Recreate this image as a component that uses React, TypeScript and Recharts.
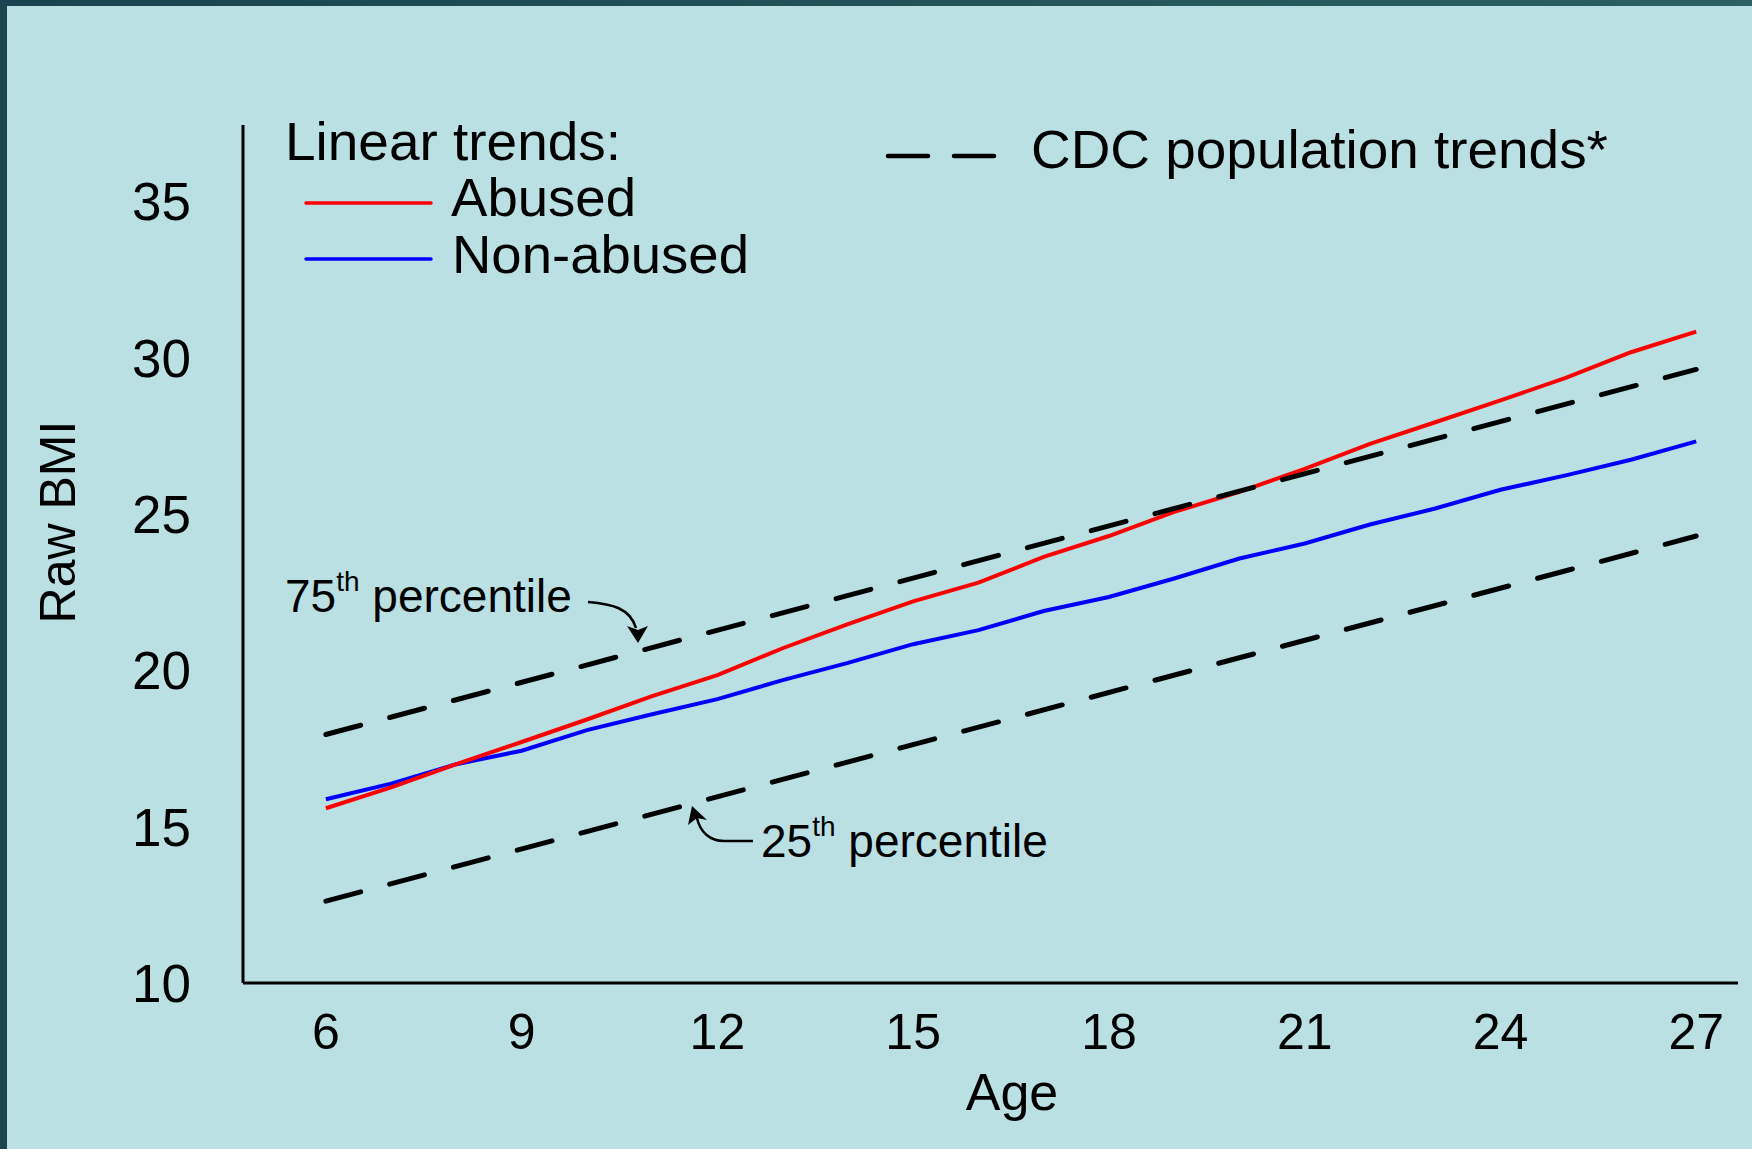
import React from 'react'
import { LineChart, Line, XAxis, YAxis } from 'recharts'

// ages with a measured point for each group
const ages = [6, 7, 8, 9, 10, 11, 12, 13, 14, 15, 16, 17, 18, 19, 20, 21, 22, 23, 24, 25, 26, 27]
const abusedBmi = [
  15.59, 16.26, 17.0, 17.71, 18.43, 19.18, 19.85, 20.71, 21.48, 22.21, 22.81,
  23.63, 24.3, 25.07, 25.71, 26.45, 27.25, 27.94, 28.64, 29.36, 30.18, 30.84,
]
const nonAbusedBmi = [
  15.88, 16.38, 17.0, 17.43, 18.09, 18.6, 19.08, 19.69, 20.24, 20.84, 21.29,
  21.9, 22.35, 22.94, 23.58, 24.06, 24.67, 25.18, 25.78, 26.24, 26.74, 27.33,
]

// CDC population trends (straight lines, end points only)
const cdcAges = [6, 27]
const cdc75 = [17.95, 29.63]
const cdc25 = [12.62, 24.3]

const xTicks = [6, 9, 12, 15, 18, 21, 24, 27]
const yTicks = [10, 15, 20, 25, 30, 35]

const trendData = ages.map((age, i) => ({
  age,
  abused: abusedBmi[i],
  nonAbused: nonAbusedBmi[i],
}))
const cdc75Data = cdcAges.map((age, i) => ({ age, bmi: cdc75[i] }))
const cdc25Data = cdcAges.map((age, i) => ({ age, bmi: cdc25[i] }))

const FONT = '"Liberation Sans", Arial, sans-serif'
const BG = '#bae0e3'

export default function App() {
  return (
    <div
      style={{
        position: 'absolute',
        left: 0,
        top: 0,
        width: 1752,
        height: 1149,
        background: BG,
        fontFamily: FONT,
        overflow: 'hidden',
      }}
    >
      {/* frame */}
      <div
        style={{
          position: 'absolute',
          left: 0,
          top: 0,
          width: 1752,
          height: 6,
          background: 'linear-gradient(to right, #19434f, #2b6162)',
        }}
      />
      <div
        style={{ position: 'absolute', left: 0, top: 0, width: 7, height: 1149, background: '#1a4450' }}
      />

      <div style={{ position: 'absolute', left: 0, top: 0 }}>
        <LineChart
          width={1752}
          height={1149}
          margin={{ top: 125, right: 14, bottom: 66, left: 93 }}
        >
          <XAxis
            dataKey="age"
            type="number"
            domain={[4.73, 27.64]}
            ticks={xTicks}
            allowDataOverflow
            height={100}
            tickLine={false}
            tickSize={0}
            tickMargin={30}
            axisLine={{ stroke: '#000', strokeWidth: 3 }}
            tick={{ fill: '#000', fontSize: 50, fontFamily: FONT }}
          />
          <YAxis
            type="number"
            domain={[10, 37.45]}
            ticks={yTicks}
            allowDataOverflow
            width={150}
            tickLine={false}
            tickSize={0}
            tickMargin={52}
            axisLine={{ stroke: '#000', strokeWidth: 3 }}
            tick={{ fill: '#000', fontSize: 53, fontFamily: FONT }}
          />
          <Line
            data={trendData}
            dataKey="nonAbused"
            type="linear"
            stroke="#0000ff"
            strokeWidth={4}
            dot={false}
            isAnimationActive={false}
          />
          <Line
            data={trendData}
            dataKey="abused"
            type="linear"
            stroke="#ff0000"
            strokeWidth={4}
            dot={false}
            isAnimationActive={false}
          />
          <Line
            data={cdc75Data}
            dataKey="bmi"
            type="linear"
            stroke="#000"
            strokeWidth={5}
            strokeDasharray="36 30"
            strokeLinecap="round"
            dot={false}
            isAnimationActive={false}
          />
          <Line
            data={cdc25Data}
            dataKey="bmi"
            type="linear"
            stroke="#000"
            strokeWidth={5}
            strokeDasharray="36 30"
            strokeLinecap="round"
            dot={false}
            isAnimationActive={false}
          />
        </LineChart>
      </div>

      {/* axis titles, legend and annotations */}
      <svg
        width={1752}
        height={1149}
        style={{ position: 'absolute', left: 0, top: 0, pointerEvents: 'none' }}
        fontFamily={FONT}
        fill="#000"
      >
        <text x={75} y={522} fontSize={50} textAnchor="middle" transform="rotate(-90 75 522)">
          Raw BMI
        </text>
        <text x={1012} y={1110} fontSize={52} textAnchor="middle">
          Age
        </text>

        <text x={285} y={160} fontSize={53} textLength={336} lengthAdjust="spacingAndGlyphs">
          Linear trends:
        </text>
        <line x1={306} y1={203} x2={431} y2={203} stroke="#ff0000" strokeWidth={3.5} strokeLinecap="round" />
        <text x={451} y={216} fontSize={53} textLength={185} lengthAdjust="spacingAndGlyphs">
          Abused
        </text>
        <line x1={306} y1={259} x2={431} y2={259} stroke="#0000ff" strokeWidth={3.5} strokeLinecap="round" />
        <text x={452} y={273} fontSize={53} textLength={297} lengthAdjust="spacingAndGlyphs">
          Non-abused
        </text>

        <line x1={888} y1={156} x2={928} y2={156} stroke="#000" strokeWidth={4.5} strokeLinecap="round" />
        <line x1={954} y1={156} x2={994} y2={156} stroke="#000" strokeWidth={4.5} strokeLinecap="round" />
        <text x={1031} y={168} fontSize={53} textLength={577} lengthAdjust="spacingAndGlyphs">
          CDC population trends*
        </text>

        <text x={285} y={612} fontSize={46}>
          75<tspan fontSize={28} dy={-21}>th</tspan>
          <tspan dy={21}> percentile</tspan>
        </text>
        <path d="M588 602 C612 604 630 608 636 628" fill="none" stroke="#000" strokeWidth={2.5} />
        <path d="M627 626 L638 643 L648 626 L638 630 Z" fill="#000" />

        <text x={761} y={857} fontSize={46}>
          25<tspan fontSize={28} dy={-21}>th</tspan>
          <tspan dy={21}> percentile</tspan>
        </text>
        <path d="M753 841 L724 841 C710 841 700 832 697 818" fill="none" stroke="#000" strokeWidth={2.5} />
        <path d="M688 825 L692 806 L707 820 L697 818 Z" fill="#000" />
      </svg>
    </div>
  )
}
